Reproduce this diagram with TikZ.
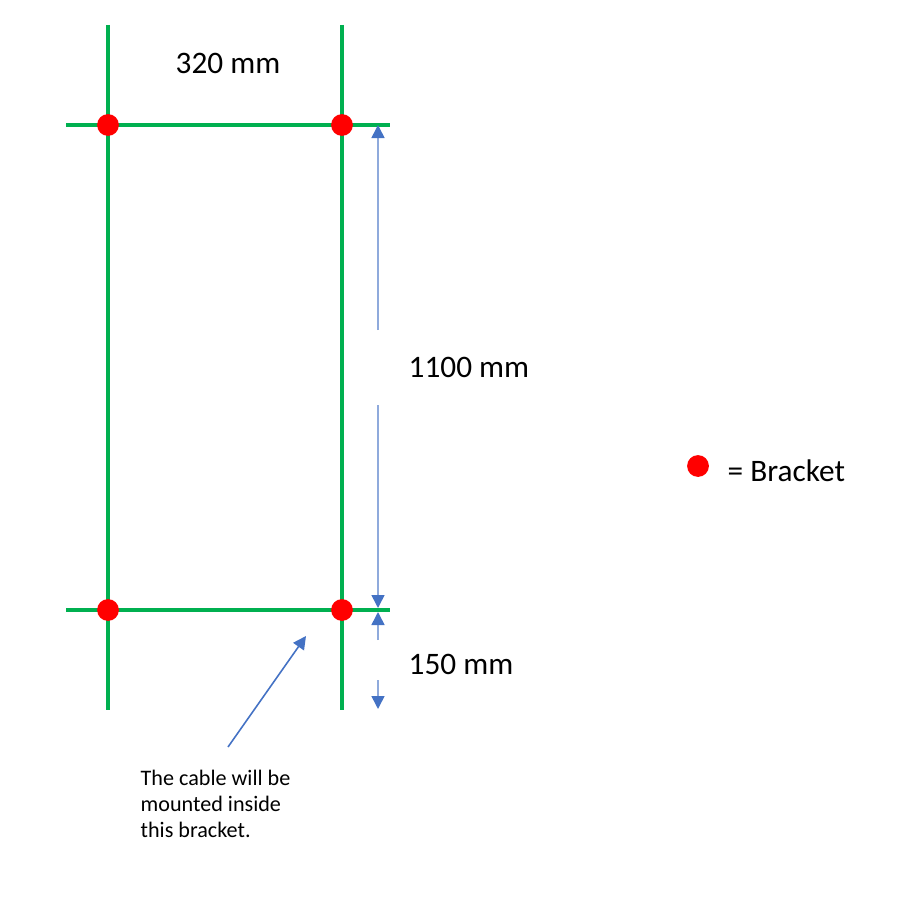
\documentclass[tikz,border=0pt]{standalone}
\usepackage{fontspec}
\setmainfont{Carlito}
\usetikzlibrary{arrows.meta}
\definecolor{railgreen}{RGB}{0,176,80}
\definecolor{dimblue}{RGB}{68,114,196}
\definecolor{dimline}{RGB}{143,170,220}
\begin{document}
\begin{tikzpicture}[x=0.1mm,y=-0.1mm,
	bracket/.style={shape=circle,fill=red,inner sep=0pt,minimum size=6.2pt},
	rail/.style={draw=railgreen,line width=1.35pt},
	dim/.style={draw=dimline,line width=0.45pt,-{Triangle[length=3.7pt,width=3.7pt,color=dimblue]}},
	lbl/.style={font=\fontsize{8.9}{11}\selectfont,inner sep=0pt},
	note/.style={font=\fontsize{6.3}{7.4}\selectfont,align=left,inner sep=0pt}]
	\useasboundingbox (0,0) rectangle (900,900);

	% frame of the rack
	\coordinate (lt) at (108,25);
	\coordinate (lb) at (108,710);
	\coordinate (rt) at (342,25);
	\coordinate (rb) at (342,710);
	\coordinate (tl) at (66,125);
	\coordinate (tr) at (390,125);
	\coordinate (bl) at (66,610);
	\coordinate (br) at (390,610);
	\draw[rail] (lt) -- (lb);
	\draw[rail] (rt) -- (rb);
	\draw[rail] (tl) -- (tr);
	\draw[rail] (bl) -- (br);

	\node[bracket] (b1) at (108,125) {};
	\node[bracket] (b2) at (342,125) {};
	\node[bracket] (b3) at (108,610) {};
	\node[bracket] (b4) at (342,610) {};

	\node[lbl] (w) at (228,63) {320 mm};

	% dimensions
	\coordinate (d0) at (378,125);
	\coordinate (d1) at (378,330);
	\coordinate (d2) at (378,405);
	\coordinate (d3) at (378,608);
	\coordinate (d4) at (378,612);
	\coordinate (d5) at (378,640);
	\coordinate (d6) at (378,680);
	\coordinate (d7) at (378,709);
	\draw[dim] (d1) -- (d0);
	\draw[dim] (d2) -- (d3);
	\draw[dim] (d5) -- (d4);
	\draw[dim] (d6) -- (d7);
	\node[lbl,anchor=west] (h1) at (408,367) {1100 mm};
	\node[lbl,anchor=west] (h2) at (408,664) {150 mm};

	% callout
	\node[note,anchor=north west] (txt) at (140,769) {The cable will be\\mounted inside\\this bracket.};
	\coordinate (c0) at (228,747);
	\coordinate (c1) at (306,636);
	\draw[dim,draw=dimblue] (c0) -- (c1);

	% legend
	\node[bracket] (key) at (698,466) {};
	\node[lbl,anchor=west] (keytxt) at (727,471) {= Bracket};
\end{tikzpicture}
\end{document}
